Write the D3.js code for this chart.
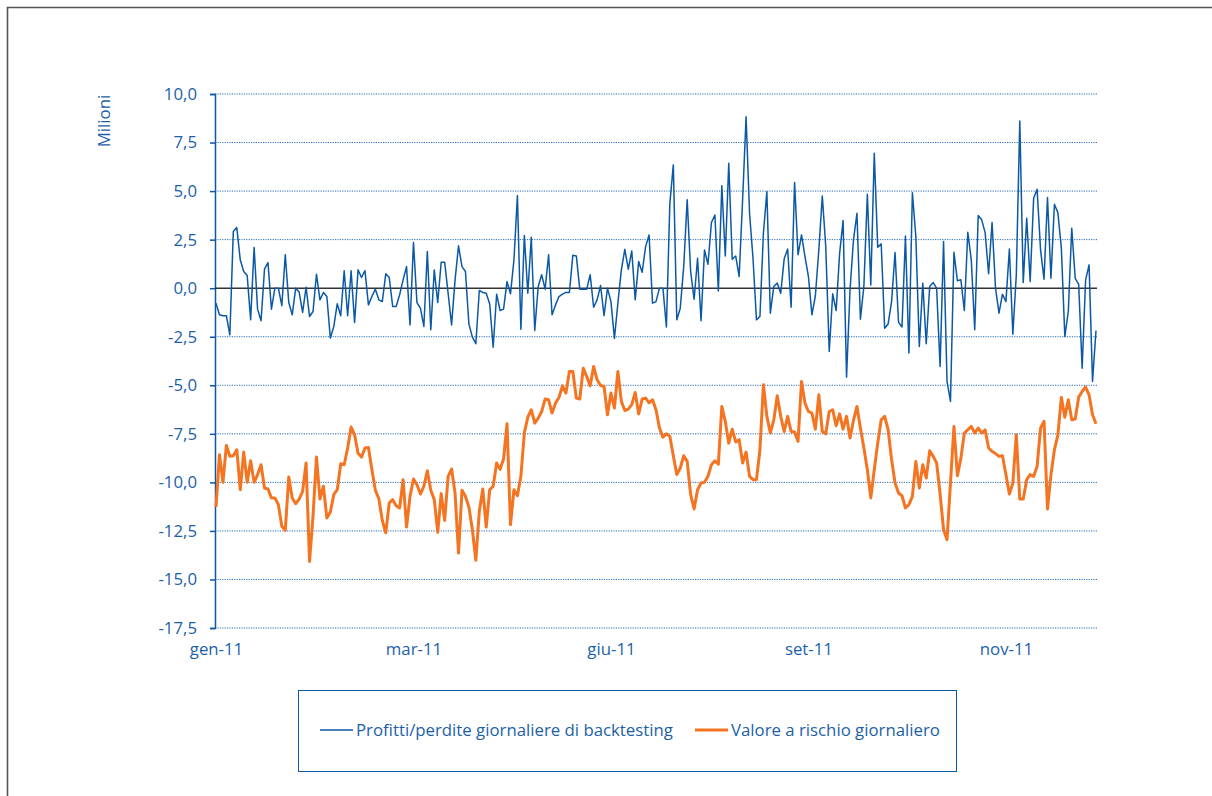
<!DOCTYPE html>
<html>
<head>
<meta charset="utf-8">
<script src="https://cdn.jsdelivr.net/npm/d3@7"></script>
<style>
    body { margin: 0; background: #ffffff; }
    svg { display: block; font-family: "Open Sans", sans-serif; }
</style>
</head>
<body>
<div id="chart"></div>
<script>
// Daily backtesting P&L (millions), one value per trading day
var pnl = [
    -0.77, -1.37, -1.42, -1.42, -2.4, 2.92, 3.12, 1.46, 0.86, 0.65,
    -1.63, 2.1, -1.08, -1.68, 0.98, 1.32, -1.08, 0, 0, -0.9,
    1.72, -0.74, -1.37, 0, -0.2, -1.25, 0.05, -1.46, -1.2, 0.72,
    -0.6, -0.22, -0.43, -2.57, -1.97, -0.8, -1.42, 0.9, -1.42, 0.9,
    -1.77, 0.95, 0.55, 0.9, -0.86, -0.43, -0.05, -0.6, -0.69, 0.74,
    0.55, -0.94, -0.94, -0.34, 0.43, 1.11, -1.89, 2.35, -0.74, -1.03,
    -1.97, 1.89, -2.14, 0.94, -0.74, 1.34, 1.34, -0.26, -1.89, 0.43,
    2.18, 1.11, 0.86, -1.85, -2.52, -2.86, -0.12, -0.22, -0.26, -0.81,
    -3.04, -0.31, -1.15, -1.08, 0.34, -0.29, 1.46, 4.77, -2.11, 2.71,
    -0.26, 2.62, -2.18, 0.09, 0.69, -0.05, 1.72, -1.37, -0.86, -0.43,
    -0.31, -0.22, -0.22, 1.7, 1.66, -0.05, -0.05, -0.05, 0.69, -0.98,
    -0.6, 0.14, -1.42, 0, -0.69, -2.59, -0.77, 0.94, 2.0, 0.98,
    1.92, -0.6, 1.37, 0.82, 2.14, 2.74, -0.77, -0.69, 0, 0,
    -2.0, 4.37, 6.35, -1.63, -1.03, 1.11, 4.55, 0.86, -0.57, 1.54,
    -1.68, 1.97, 1.23, 3.38, 3.77, -0.14, 5.28, 1.66, 6.43, 1.49,
    1.66, 0.6, 4.55, 8.83, 3.86, 1.54, -1.63, -1.46, 2.83, 4.97,
    -1.29, 0.09, 0.26, -0.26, 1.51, 2.02, -0.98, 5.44, 1.72, 2.74,
    1.63, 0.6, -1.37, -0.39, 1.97, 4.75, 2.14, -3.26, -0.29, -1.15,
    1.8, 3.48, -4.58, -0.09, 2.49, 3.86, -1.6, 0.09, 4.84, 0.17,
    6.95, 2.11, 2.28, -2.06, -1.84, -0.69, 1.84, -1.75, -2.0, 2.69,
    -3.34, 4.92, 2.66, -3.0, 0.26, -2.86, 0.09, 0.29, 0, -4.03,
    2.4, -4.8, -5.83, 1.85, 0.38, 0.43, -1.15, 2.88, 1.46, -2.14,
    3.74, 3.52, 2.86, 0.74, 3.38, 0, -1.29, -0.31, -0.69, 2.02,
    -2.37, 0.69, 8.61, 0.29, 3.6, 0.34, 4.63, 5.09, 1.97, 0.46,
    4.67, 0.51, 4.32, 3.89, 2.06, -2.49, -1.2, 3.09, 0.51, 0.2,
    -4.12, 0.43, 1.2, -4.8, -2.18
];

// Daily value at risk (millions)
var varDaily = [
    -11.27, -8.58, -10.0, -8.1, -8.66, -8.63, -8.32, -10.38, -8.44, -10.0,
    -8.89, -10.0, -9.6, -9.09, -10.29, -10.34, -10.8, -10.8, -11.15, -12.26,
    -12.47, -9.73, -10.8, -11.1, -10.86, -10.46, -9.0, -14.07, -11.75, -8.7,
    -10.86, -10.2, -11.84, -11.53, -10.63, -10.38, -9.04, -9.09, -8.23, -7.15,
    -7.55, -8.5, -8.7, -8.23, -8.2, -9.35, -10.41, -10.84, -11.96, -12.6,
    -11.06, -10.89, -11.2, -11.32, -9.86, -12.3, -10.72, -9.83, -10.12, -10.6,
    -10.2, -9.4, -10.41, -10.89, -12.57, -10.58, -11.96, -9.69, -9.31, -10.55,
    -13.64, -10.41, -10.72, -11.27, -12.44, -14.01, -11.49, -10.34, -12.3, -10.38,
    -10.2, -9.0, -9.33, -8.8, -6.98, -12.18, -10.38, -10.69, -9.69, -7.46,
    -6.64, -6.26, -6.95, -6.69, -6.35, -5.71, -5.75, -6.43, -5.92, -5.63,
    -5.03, -5.4, -4.29, -4.29, -5.66, -5.71, -4.12, -4.55, -5.03, -4.03,
    -4.72, -5.01, -5.06, -6.52, -5.4, -6.17, -4.29, -5.83, -6.3, -6.23,
    -6.0, -5.37, -6.48, -5.71, -5.66, -5.9, -5.75, -6.26, -7.2, -7.67,
    -7.5, -7.63, -8.63, -9.6, -9.26, -8.63, -8.92, -10.63, -11.37, -10.38,
    -10.03, -10.0, -9.69, -9.09, -8.89, -9.06, -6.09, -6.86, -7.98, -7.26,
    -7.92, -7.8, -9.0, -8.44, -9.69, -9.86, -9.86, -8.32, -4.97, -6.6,
    -7.46, -6.78, -5.54, -6.6, -7.38, -6.6, -7.38, -7.4, -7.89, -4.8,
    -5.92, -6.35, -6.43, -7.26, -5.49, -7.38, -7.5, -6.35, -6.26, -7.08,
    -6.47, -7.26, -6.6, -7.72, -6.81, -6.09, -7.2, -8.23, -9.35, -10.8,
    -9.35, -7.98, -6.78, -6.6, -7.29, -8.83, -10.03, -10.55, -10.69, -11.32,
    -11.15, -10.72, -8.92, -10.29, -9.09, -9.78, -8.37, -8.66, -9.0, -10.6,
    -12.44, -12.95, -10.03, -7.12, -9.66, -8.75, -7.46, -7.29, -7.12, -7.46,
    -7.2, -7.46, -7.29, -8.23, -8.4, -8.52, -8.66, -8.63, -9.6, -10.6,
    -10.03, -7.55, -10.86, -10.86, -9.86, -9.6, -9.69, -9.18, -7.2, -6.86,
    -11.37, -9.6, -8.32, -7.55, -5.63, -6.64, -5.75, -6.78, -6.74, -5.61,
    -5.32, -5.09, -5.49, -6.52, -6.98
];

// Category labels shown on the x axis and the day index they sit on
var xLabels = ["gen-11", "mar-11", "giu-11", "set-11", "nov-11"];
var xLabelIdx = [0, 57, 114, 171, 228];

// Y ticks
var yTicks = [10, 7.5, 5, 2.5, 0, -2.5, -5, -7.5, -10, -12.5, -15, -17.5];

var seriesNames = ["Profitti/perdite giornaliere di backtesting", "Valore a rischio giornaliero"];

const blue = "#0b59a6";
const orange = "#f47421";
const textBlue = "#1c5fa9";
const fontSize = "16.8px";

const width = 1212, height = 796;

var svg = d3.select("#chart").append("svg")
    .attr("width", width)
    .attr("height", height);

// Outer frame (only top and left are visible)
svg.append("path")
    .attr("d", "M7.5," + height + "V7.5H" + width)
    .attr("fill", "none")
    .attr("stroke", "#555555")
    .attr("stroke-width", 1.6);

var x = d3.scaleLinear()
    .domain([0, pnl.length - 1])
    .range([216, 1096]);

var y = d3.scaleLinear()
    .domain([-17.5, 10])
    .range([628, 94]);

var it = d3.formatLocale({decimal: ",", thousands: ".", grouping: [3], currency: ["", "€"], minus: "-"});
var fmt = it.format(".1f");

// Dotted grid
svg.append("g")
    .selectAll("line")
    .data(yTicks.filter(function (d) { return d !== 0; }))
    .enter().append("line")
    .attr("x1", 215)
    .attr("x2", 1097)
    .attr("y1", function (d) { return y(d); })
    .attr("y2", function (d) { return y(d); })
    .attr("stroke", "#2a6cb6")
    .attr("stroke-width", 1)
    .attr("stroke-dasharray", "1.2,1.2");

// Y axis
var yAxis = svg.append("g")
    .attr("transform", "translate(215,0)")
    .call(d3.axisLeft(y).tickValues(yTicks).tickFormat(fmt).tickSize(5).tickPadding(13));
yAxis.select(".domain").attr("stroke", blue).attr("stroke-width", 1.5);
yAxis.selectAll(".tick line").attr("stroke", blue).attr("stroke-width", 1.5);
yAxis.selectAll("text")
    .attr("fill", textBlue)
    .style("font-size", fontSize)
    .style("font-family", "'Open Sans', sans-serif");

// Zero line
svg.append("line")
    .attr("x1", 215)
    .attr("x2", 1097)
    .attr("y1", y(0))
    .attr("y2", y(0))
    .attr("stroke", "#333333")
    .attr("stroke-width", 1.5);

// X labels
var xAxis = svg.append("g")
    .attr("transform", "translate(0,628)")
    .call(d3.axisBottom(x).tickValues(xLabelIdx).tickSize(0).tickPadding(15)
        .tickFormat(function (d, i) { return xLabels[i]; }));
xAxis.select(".domain").remove();
xAxis.selectAll("text")
    .attr("fill", textBlue)
    .style("font-size", fontSize)
    .style("font-family", "'Open Sans', sans-serif");

// Axis title
svg.append("text")
    .attr("transform", "translate(110,121) rotate(-90)")
    .attr("text-anchor", "middle")
    .attr("fill", textBlue)
    .style("font-size", fontSize)
    .text("Milioni");

var line = d3.line()
    .x(function (d, i) { return x(i); })
    .y(function (d) { return y(d); });

svg.append("path")
    .datum(varDaily)
    .attr("d", line)
    .attr("fill", "none")
    .attr("stroke", orange)
    .attr("stroke-width", 3)
    .attr("stroke-linejoin", "round");

svg.append("path")
    .datum(pnl)
    .attr("d", line)
    .attr("fill", "none")
    .attr("stroke", blue)
    .attr("stroke-width", 1.5)
    .attr("stroke-linejoin", "round");

// Legend
var legend = svg.append("g");
legend.append("rect")
    .attr("x", 298.5)
    .attr("y", 690.5)
    .attr("width", 658)
    .attr("height", 81)
    .attr("fill", "none")
    .attr("stroke", blue)
    .attr("stroke-width", 1);

var legendItems = [
    {name: seriesNames[0], color: blue, w: 1.5, x: 320},
    {name: seriesNames[1], color: orange, w: 3, x: 695}
];
var item = legend.selectAll(".item")
    .data(legendItems)
    .enter().append("g")
    .attr("transform", function (d) { return "translate(" + d.x + ",730)"; });
item.append("line")
    .attr("x1", 0)
    .attr("x2", 33)
    .attr("stroke", function (d) { return d.color; })
    .attr("stroke-width", function (d) { return d.w; });
item.append("text")
    .attr("x", 36)
    .attr("dy", "0.35em")
    .attr("fill", textBlue)
    .style("font-size", fontSize)
    .text(function (d) { return d.name; });
</script>
</body>
</html>
